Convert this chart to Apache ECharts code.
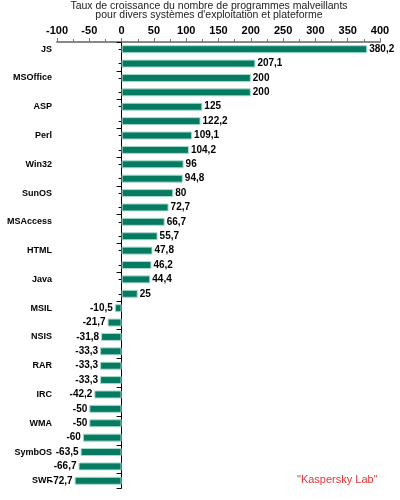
<!DOCTYPE html>
<html>
<head>
<meta charset="utf-8">
<script src="https://cdn.jsdelivr.net/npm/echarts@6/dist/echarts.min.js"></script>
<style>
  html, body { margin: 0; padding: 0; background: #fff; }
  #chart { width: 400px; height: 500px; }
</style>
</head>
<body>
<div id="chart"></div>
<script>
// une barre sur deux porte un nom dans l'original
const categories = ['JS', '', 'MSOffice', '', 'ASP', '', 'Perl', '', 'Win32', '', 'SunOS', '',
    'MSAccess', '', 'HTML', '', 'Java', '', 'MSIL', '', 'NSIS', '', 'RAR', '', 'IRC', '',
    'WMA', '', 'SymbOS', '', 'SWF'];
const values = [380.2, 207.1, 200, 200, 125, 122.2, 109.1, 104.2, 96, 94.8, 80, 72.7,
    66.7, 55.7, 47.8, 46.2, 44.4, 25, -10.5, -21.7, -31.8, -33.3, -33.3, -33.3, -42.2, -50,
    -50, -60, -63.5, -66.7, -72.7];
const xTicks = [-100, 400, 50];

const font = '"Liberation Sans", Arial, sans-serif';
const gridLeft = 57;

const chart = echarts.init(document.getElementById('chart'));

const seriesData = values.map(function (v) {
    return {
        value: v,
        label: { position: v < 0 ? 'left' : 'right' }
    };
});

const catAxis = function (extra) {
    return Object.assign({
        type: 'category',
        inverse: true,
        data: categories,
        axisLabel: { show: false },
        axisTick: { show: false },
        axisLine: { show: false },
        splitLine: { show: false }
    }, extra);
};

chart.setOption({
    animation: false,
    title: {
        text: 'Taux de croissance du nombre de programmes malveillants\npour divers systèmes d\'exploitation et plateforme',
        left: 209,
        top: 2,
        textAlign: 'center',
        padding: 0,
        textStyle: {
            fontFamily: font,
            fontSize: 10.5,
            fontWeight: 'normal',
            lineHeight: 9,
            color: '#222'
        }
    },
    graphic: [{
        type: 'text',
        left: 297,
        top: 474,
        style: {
            text: '"Kaspersky Lab"',
            font: '11px ' + font,
            fill: '#e53535'
        }
    }],
    grid: {
        left: gridLeft,
        right: 20,
        top: 42,
        bottom: 12,
        containLabel: false,
        outerBoundsMode: 'none'
    },
    xAxis: {
        type: 'value',
        position: 'top',
        min: xTicks[0],
        max: xTicks[1],
        interval: xTicks[2],
        axisLine: { show: true, lineStyle: { color: '#888', width: 2 } },
        axisTick: { show: true, length: 4, lineStyle: { color: '#777' } },
        minorTick: { show: true, splitNumber: 2, length: 3, lineStyle: { color: '#777' } },
        splitLine: { show: false },
        axisLabel: {
            margin: 6,
            fontFamily: font,
            fontSize: 11,
            fontWeight: 'bold',
            color: '#000'
        }
    },
    yAxis: [
        // noms à gauche de la grille
        catAxis({
            position: 'left',
            axisLine: { show: false, onZero: false },
            axisLabel: {
                show: true,
                interval: 0,
                margin: 5,
                fontFamily: font,
                fontSize: 9,
                fontWeight: 'bold',
                color: '#000'
            }
        }),
        // ligne du zéro : grands traits tous les deux, petits au milieu des barres
        catAxis({
            position: 'left',
            axisLine: { show: true, onZero: false, lineStyle: { color: '#000', width: 1 } },
            axisTick: { show: true, interval: 1, length: 5, lineStyle: { color: '#000' } }
        }),
        catAxis({
            position: 'left',
            axisLine: { show: false, onZero: false },
            axisTick: { show: true, interval: 0, alignWithLabel: true, length: 3, lineStyle: { color: '#000' } }
        })
    ],
    series: [{
        type: 'bar',
        data: seriesData,
        barWidth: 8,
        itemStyle: {
            color: '#077a62',
            borderColor: '#a6dccd',
            borderWidth: 1
        },
        label: {
            show: true,
            distance: 2,
            fontFamily: font,
            fontSize: 10,
            fontWeight: 'bold',
            color: '#000',
            formatter: function (p) {
                return String(p.value).replace('.', ',');
            }
        }
    }]
});

// décale les axes de traits jusqu'au zéro de l'échelle
const zeroX = chart.convertToPixel({ xAxisIndex: 0 }, 0);
const shift = -(zeroX - gridLeft);
chart.setOption({
    yAxis: [{}, { offset: shift }, { offset: shift }]
});
</script>
</body>
</html>
